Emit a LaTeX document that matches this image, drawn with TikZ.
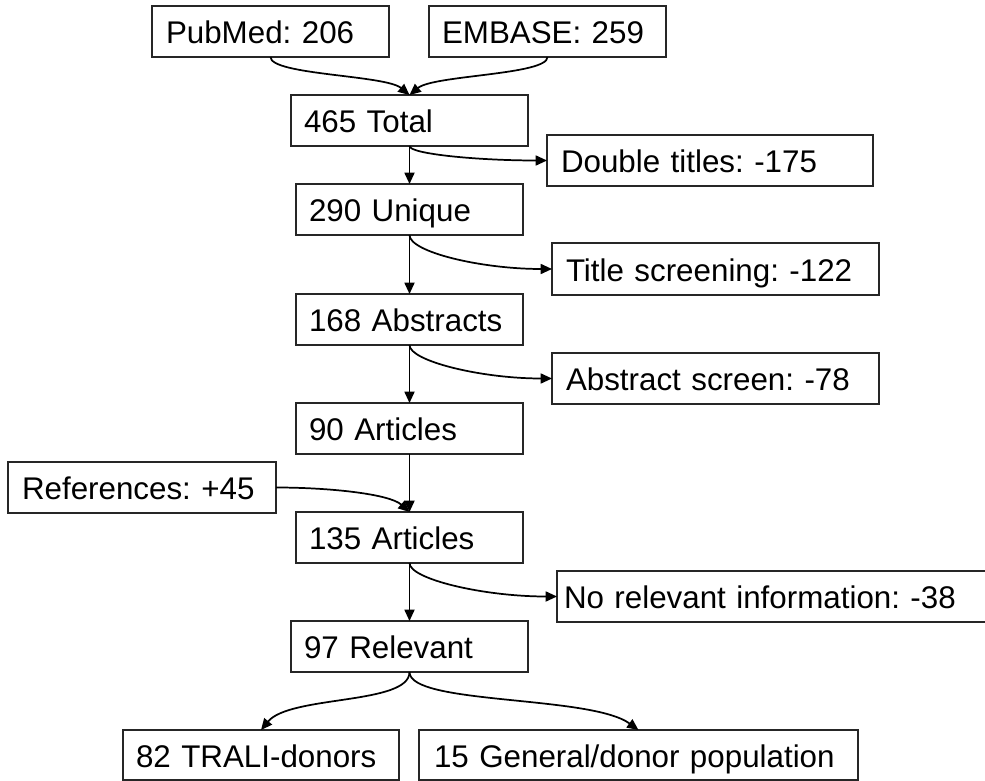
\documentclass[tikz,border=0pt]{standalone}
\usepackage{fontspec}
\setmainfont{Liberation Sans}
\usetikzlibrary{arrows.meta}
\frenchspacing
% \mkbox{name}{left}{top}{right}{bottom}{padding}{text}  (pixel units, y down)
\newcommand\mkbox[7]{%
  \pgfmathsetlengthmacro\bxw{(#4-#2)*0.75pt}%
  \pgfmathsetlengthmacro\bxh{(#5-#3)*0.75pt}%
  \pgfmathsetlengthmacro\bxpad{(#6)*0.75pt}%
  \pgfmathsetlengthmacro\bxtw{(#4-#2-2*#6)*0.75pt}%
  \node[boxst, minimum width=\bxw, minimum height=\bxh, inner xsep=\bxpad,
        text width=\bxtw, anchor=north west] (#1) at (#2,#3) {#7};}
\begin{document}
\begin{tikzpicture}[x=0.75pt,y=-0.75pt,
  boxst/.style={draw=black!85, line width=1pt, inner ysep=0pt, outer sep=0pt,
    align=left, text height=18pt, text depth=0pt,
    font=\fontsize{23.5}{28}\selectfont},
  conn/.style={line width=1.3pt, -{Triangle[length=8.5pt,width=7.5pt]}}]
\useasboundingbox (0,0) rectangle (985,781);
\mkbox{pub}{152}{6}{389}{57}{14}{PubMed: 206}
\mkbox{emb}{429}{6}{666}{57}{13}{EMBASE: 259}
\mkbox{tot}{291}{95}{528}{146}{13}{465 Total}
\mkbox{dbl}{547}{135}{873}{186}{14}{Double titles: -175}
\mkbox{uni}{296}{184}{523}{235}{13}{290 Unique}
\mkbox{tit}{552}{243}{879}{295}{14}{Title screening: -122}
\mkbox{abs}{296}{294}{523}{345}{13}{168 Abstracts}
\mkbox{ascr}{552}{353}{879}{404}{14}{Abstract screen: -78}
\mkbox{a90}{296}{403}{523}{454}{13}{90 Articles}
\mkbox{ref}{8}{462}{276}{513}{14}{References: +45}
\mkbox{a135}{296}{512}{523}{563}{13}{135 Articles}
\mkbox{norel}{557}{571}{1000}{622}{7}{No relevant information: -38}
\mkbox{rel}{291}{621}{528}{672}{13}{97 Relevant}
\mkbox{trali}{123}{730}{399}{780}{13}{82 TRALI-donors}
\mkbox{gen}{419}{730}{858}{780}{15}{15 General/donor population}
% merges
\draw[conn] (pub.south) .. controls +(0,18) and +(-24,-20) .. (tot.north);
\draw[conn] (emb.south) .. controls +(0,18) and +(24,-20) .. (tot.north);
% trunk
\draw[conn] (tot.south) -- (uni.north);
\draw[conn] (uni.south) -- (abs.north);
\draw[conn] (abs.south) -- (a90.north);
\draw[conn] (a90.south) -- (a135.north);
\draw[conn] (a135.south) -- (rel.north);
% branches
\draw[conn] (tot.south) .. controls +(0,8) and +(-69,0) .. (dbl.west);
\draw[conn] (uni.south) .. controls +(0,17) and +(-71,0) .. (tit.west);
\draw[conn] (abs.south) .. controls +(0,16) and +(-71,0) .. (ascr.west);
\draw[conn] (a135.south) .. controls +(0,16) and +(-74,0) .. (norel.west);
\draw[conn] (ref.east) .. controls +(54,0) and +(-20,-18) .. (a135.north);
% split
\draw[conn] (rel.south) .. controls +(0,33) and +(29,-35) .. (trali.north);
\draw[conn] (rel.south) .. controls +(0,33) and +(-48,-35) .. (gen.north);
\end{tikzpicture}
\end{document}
